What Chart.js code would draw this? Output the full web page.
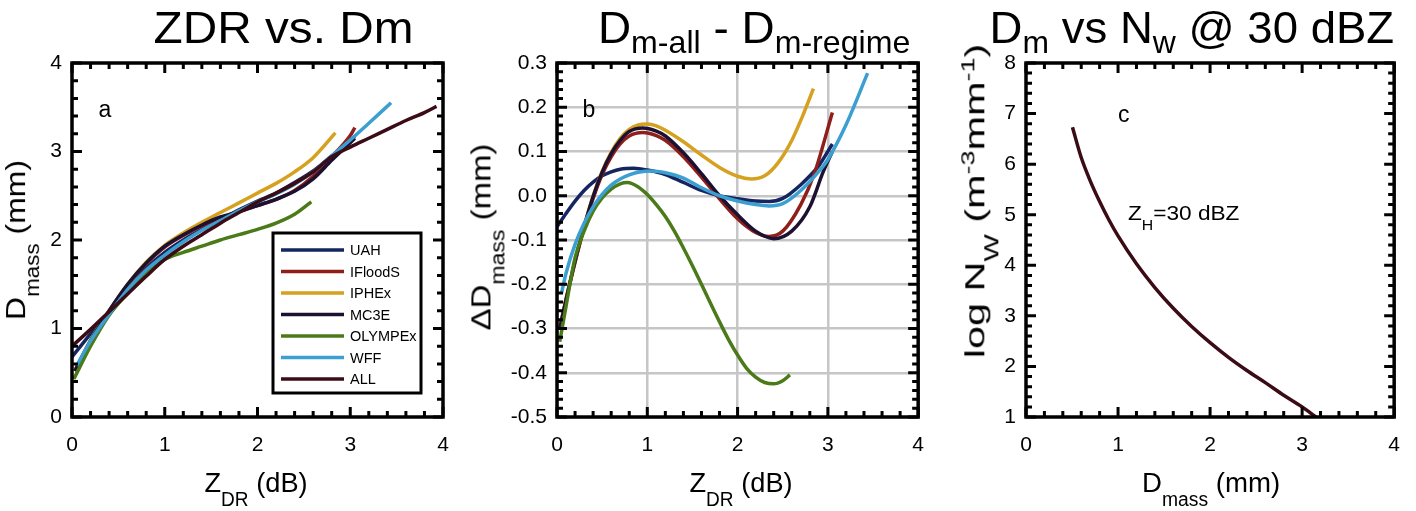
<!DOCTYPE html>
<html><head><meta charset="utf-8">
<script src="https://cdn.jsdelivr.net/npm/chart.js@4.4.1/dist/chart.umd.min.js"></script>
<style>
html,body{margin:0;padding:0;background:#fff;}
#wrap{position:relative;width:1416px;height:511px;overflow:hidden;font-family:"Liberation Sans",Arial,Helvetica,sans-serif;color:#000;}
canvas{position:absolute;top:0;}
.t{position:absolute;white-space:nowrap;line-height:1;transform-origin:50% 50%;}
.sb{font-size:0.7em;position:relative;top:0.32em;}
.sb2{font-size:0.7em;position:relative;top:0.72em;}
.sp{font-size:0.65em;position:relative;top:-0.55em;}
</style></head>
<body>
<div id="wrap">
  <canvas id="ca" width="470" height="511" style="left:0;width:470px;height:511px"></canvas>
  <canvas id="cb" width="470" height="511" style="left:470px;width:470px;height:511px"></canvas>
  <canvas id="cc" width="476" height="511" style="left:940px;width:476px;height:511px"></canvas>
</div>
<script>
// ---------------- DATA ----------------
const seriesNames = ['UAH','IFloodS','IPHEx','MC3E','OLYMPEx','WFF','ALL'];

// Panel a: ZDR (dB) vs Dmass (mm)
const zdrA_UAH = [0, 0.2, 0.4, 0.6, 0.8, 1.0, 1.2, 1.4, 1.6, 1.8, 2.0, 2.2, 2.4, 2.6, 2.8, 3.0, 3.05];
const dmA_UAH  = [0.68, 0.94, 1.19, 1.46, 1.68, 1.86, 2.00, 2.12, 2.23, 2.34, 2.44, 2.53, 2.65, 2.78, 2.95, 3.12, 3.17];
const zdrA_IFloodS = [0.03, 0.2, 0.4, 0.6, 0.8, 1.0, 1.2, 1.4, 1.6, 1.8, 2.0, 2.2, 2.4, 2.6, 2.8, 3.0, 3.05];
const dmA_IFloodS  = [0.52, 0.86, 1.19, 1.49, 1.73, 1.92, 2.05, 2.16, 2.24, 2.32, 2.39, 2.46, 2.56, 2.72, 2.94, 3.18, 3.27];
const zdrA_IPHEx = [0.03, 0.2, 0.4, 0.6, 0.8, 1.0, 1.2, 1.4, 1.6, 1.8, 2.0, 2.2, 2.4, 2.6, 2.84];
const dmA_IPHEx  = [0.52, 0.87, 1.20, 1.50, 1.75, 1.94, 2.08, 2.20, 2.31, 2.42, 2.53, 2.64, 2.77, 2.93, 3.21];
const zdrA_MC3E = [0.03, 0.2, 0.4, 0.6, 0.8, 1.0, 1.2, 1.4, 1.6, 1.8, 2.0, 2.2, 2.4, 2.6, 2.8, 3.0, 3.05];
const dmA_MC3E  = [0.52, 0.86, 1.20, 1.50, 1.74, 1.93, 2.06, 2.17, 2.26, 2.32, 2.39, 2.46, 2.55, 2.69, 2.90, 3.10, 3.15];
const zdrA_OLYMPEx = [0.02, 0.2, 0.4, 0.6, 0.8, 1.0, 1.2, 1.4, 1.6, 1.8, 2.0, 2.2, 2.4, 2.58];
const dmA_OLYMPEx  = [0.43, 0.80, 1.15, 1.40, 1.62, 1.78, 1.86, 1.93, 2.00, 2.06, 2.12, 2.19, 2.29, 2.43];
const zdrA_WFF = [0.05, 0.2, 0.4, 0.6, 0.8, 1.0, 1.2, 1.4, 1.6, 1.8, 2.0, 2.2, 2.4, 2.6, 2.8, 3.0, 3.2, 3.44];
const dmA_WFF  = [0.58, 0.86, 1.16, 1.44, 1.66, 1.83, 1.98, 2.11, 2.22, 2.33, 2.43, 2.52, 2.63, 2.77, 2.95, 3.13, 3.32, 3.55];
const zdrA_ALL = [0, 0.2, 0.4, 0.6, 0.8, 1.0, 1.2, 1.4, 1.6, 1.8, 2.0, 2.2, 2.4, 2.6, 2.8, 3.0, 3.2, 3.4, 3.6, 3.8, 3.93];
const dmA_ALL  = [0.80, 0.99, 1.19, 1.39, 1.59, 1.78, 1.93, 2.06, 2.19, 2.31, 2.43, 2.53, 2.64, 2.77, 2.94, 3.05, 3.15, 3.25, 3.35, 3.44, 3.51];

// Panel b: ZDR (dB) vs delta Dmass (mm)
const zdrB_UAH = [0, 0.1, 0.2, 0.3, 0.4, 0.5, 0.6, 0.7, 0.85, 1.0, 1.2, 1.4, 1.6, 1.8, 2.0, 2.2, 2.35, 2.5, 2.7, 2.9, 3.05];
const dDmB_UAH = [-0.07, -0.04, -0.012, 0.012, 0.031, 0.045, 0.054, 0.06, 0.062, 0.058, 0.048, 0.03, 0.012, 0.0, -0.007, -0.012, -0.013, -0.006, 0.025, 0.068, 0.117];
const zdrB_IFloodS = [0.03, 0.1, 0.2, 0.3, 0.4, 0.5, 0.6, 0.7, 0.8, 0.95, 1.1, 1.2, 1.4, 1.6, 1.8, 2.0, 2.2, 2.35, 2.5, 2.7, 2.85, 3.05];
const dDmB_IFloodS = [-0.30, -0.235, -0.15, -0.073, -0.006, 0.048, 0.088, 0.117, 0.135, 0.143, 0.136, 0.125, 0.088, 0.042, -0.007, -0.052, -0.083, -0.092, -0.08, -0.02, 0.05, 0.188];
const zdrB_IPHEx = [0.03, 0.1, 0.2, 0.3, 0.4, 0.5, 0.6, 0.7, 0.8, 0.9, 1.0, 1.1, 1.2, 1.4, 1.6, 1.8, 2.0, 2.15, 2.3, 2.45, 2.6, 2.72, 2.84];
const dDmB_IPHEx = [-0.30, -0.235, -0.148, -0.07, 0.0, 0.055, 0.098, 0.13, 0.15, 0.16, 0.162, 0.158, 0.148, 0.122, 0.092, 0.064, 0.044, 0.038, 0.045, 0.075, 0.125, 0.18, 0.242];
const zdrB_MC3E = [0.03, 0.1, 0.2, 0.3, 0.4, 0.5, 0.6, 0.7, 0.8, 0.95, 1.1, 1.2, 1.4, 1.6, 1.8, 2.0, 2.2, 2.4, 2.6, 2.8, 2.95, 3.05];
const dDmB_MC3E = [-0.30, -0.235, -0.148, -0.07, -0.002, 0.053, 0.095, 0.125, 0.145, 0.153, 0.146, 0.135, 0.097, 0.05, 0.0, -0.043, -0.08, -0.097, -0.08, -0.025, 0.055, 0.10];
const zdrB_OLYMPEx = [0.03, 0.1, 0.2, 0.3, 0.4, 0.5, 0.6, 0.7, 0.78, 0.9, 1.0, 1.1, 1.2, 1.3, 1.4, 1.5, 1.6, 1.7, 1.8, 1.9, 2.0, 2.1, 2.2, 2.3, 2.4, 2.5, 2.58];
const dDmB_OLYMPEx = [-0.33, -0.25, -0.14, -0.08, -0.035, -0.005, 0.015, 0.027, 0.03, 0.02, 0.003, -0.02, -0.047, -0.08, -0.118, -0.158, -0.2, -0.243, -0.285, -0.325, -0.36, -0.39, -0.41, -0.422, -0.425, -0.418, -0.405];
const zdrB_WFF = [0.05, 0.1, 0.2, 0.3, 0.4, 0.5, 0.6, 0.7, 0.8, 0.9, 1.05, 1.2, 1.4, 1.6, 1.8, 2.0, 2.2, 2.35, 2.5, 2.7, 2.9, 3.0, 3.2, 3.44];
const dDmB_WFF = [-0.22, -0.175, -0.11, -0.062, -0.025, 0.003, 0.024, 0.038, 0.047, 0.053, 0.056, 0.052, 0.04, 0.018, 0.0, -0.012, -0.02, -0.023, -0.018, 0.012, 0.055, 0.082, 0.16, 0.277];

// Panel c: Dmass (mm) vs log Nw at ZH = 30 dBZ
const dmC    = [0.505, 0.6, 0.7, 0.8, 0.9, 1.0, 1.2, 1.4, 1.6, 1.8, 2.0, 2.2, 2.4, 2.6, 2.8, 3.0, 3.15];
const logNwC = [6.73, 6.13, 5.66, 5.26, 4.90, 4.58, 4.03, 3.56, 3.15, 2.79, 2.47, 2.18, 1.92, 1.68, 1.43, 1.20, 1.00];

// Tick values and labels
const xTickVals = [0, 1, 2, 3, 4];
const xTickLabels = ['0', '1', '2', '3', '4'];
const aYTickVals = [0, 1, 2, 3, 4];
const aYTickLabels = ['0', '1', '2', '3', '4'];
const bYTickVals = [-0.5, -0.4, -0.3, -0.2, -0.1, 0, 0.1, 0.2, 0.3];
const bYTickLabels = ['-0.5', '-0.4', '-0.3', '-0.2', '-0.1', '0.0', '0.1', '0.2', '0.3'];
const cYTickVals = [1, 2, 3, 4, 5, 6, 7, 8];
const cYTickLabels = ['1', '2', '3', '4', '5', '6', '7', '8'];

// ---------------- STYLE ----------------
const seriesColors = {UAH:'#14255f', IFloodS:'#8f1f1b', IPHEx:'#d5a11e', MC3E:'#1d1131', OLYMPEx:'#4b7a19', WFF:'#3b9fd1', ALL:'#3c0c16'};
const drawOrder = {ALL:0, WFF:1, OLYMPEx:2, MC3E:3, IPHEx:4, IFloodS:5, UAH:6};
const FONT = '"Liberation Sans", Arial, Helvetica, sans-serif';

const pts = (xs, ys) => xs.map((x, i) => ({x: x, y: ys[i]}));
function ds(name, xs, ys) {
  return {label: name, data: pts(xs, ys), borderColor: seriesColors[name], backgroundColor: seriesColors[name],
    borderWidth: 3.5, pointRadius: 0, fill: false, cubicInterpolationMode: 'monotone', order: drawOrder[name]};
}

const frameTicks = {
  id: 'frameTicks',
  afterDatasetsDraw(chart, args, o) {
    const {ctx, chartArea: ca, scales} = chart;
    const xs = scales.x, ys = scales.y;
    ctx.save();
    ctx.strokeStyle = '#000';
    ctx.lineWidth = 3;
    const isMajor = (v, m) => Math.abs(v / m - Math.round(v / m)) < 1e-6;
    let n = Math.round((xs.max - xs.min) / o.xMinor);
    for (let i = 0; i <= n; i++) {
      const v = xs.min + i * o.xMinor;
      const len = isMajor(v, o.xMajor) ? 10 : 6;
      const p = xs.getPixelForValue(v);
      ctx.beginPath();
      ctx.moveTo(p, ca.bottom); ctx.lineTo(p, ca.bottom - len);
      ctx.moveTo(p, ca.top); ctx.lineTo(p, ca.top + len);
      ctx.stroke();
    }
    n = Math.round((ys.max - ys.min) / o.yMinor);
    for (let i = 0; i <= n; i++) {
      const v = ys.min + i * o.yMinor;
      const len = isMajor(v, o.yMajor) ? 10 : 6;
      const p = ys.getPixelForValue(v);
      ctx.beginPath();
      ctx.moveTo(ca.left, p); ctx.lineTo(ca.left + len, p);
      ctx.moveTo(ca.right, p); ctx.lineTo(ca.right - len, p);
      ctx.stroke();
    }
    ctx.lineWidth = 3.5;
    ctx.strokeRect(ca.left, ca.top, ca.width, ca.height);
    ctx.restore();
  }
};

const boxLegend = {
  id: 'boxLegend',
  afterDatasetsDraw(chart, args, o) {
    if (!o.show) return;
    const {ctx, chartArea: ca} = chart;
    const bx = ca.left + 201, by = ca.top + 170, bw = 148, bh = 160;
    ctx.save();
    ctx.fillStyle = '#fff'; ctx.fillRect(bx, by, bw, bh);
    ctx.lineWidth = 3; ctx.strokeStyle = '#000'; ctx.strokeRect(bx, by, bw, bh);
    ctx.font = '14.5px ' + FONT; ctx.textBaseline = 'middle'; ctx.textAlign = 'left';
    chart.data.datasets.forEach((d, i) => {
      const y = by + 17 + i * 21.5;
      ctx.strokeStyle = d.borderColor; ctx.lineWidth = 3.5;
      ctx.beginPath(); ctx.moveTo(bx + 8, y); ctx.lineTo(bx + 71, y); ctx.stroke();
      ctx.fillStyle = '#000';
      ctx.fillText(d.label, bx + 77, y + 1);
    });
    ctx.restore();
  }
};

function axis(min, max, vals, labels, grid, fitFn, pad) {
  return {
    type: 'linear', min: min, max: max,
    afterBuildTicks: s => { s.ticks = vals.map(v => ({value: v})); },
    afterFit: fitFn,
    ticks: {color: '#000', font: {family: FONT, size: 21}, padding: pad, autoSkip: false, maxRotation: 0,
      callback: (v, i) => labels[i]},
    grid: {display: grid, color: '#c6c6c6', lineWidth: 2.5, drawTicks: false},
    border: {display: false}
  };
}

function make(id, W, areaLeft, areaRight, datasets, yMin, yMax, yVals, yLabels, grid, minor, legend) {
  return new Chart(document.getElementById(id), {
    type: 'line',
    data: {datasets: datasets},
    options: {
      responsive: false, animation: false, events: [],
      layout: {padding: {top: 63, left: 0, right: W - areaRight, bottom: 0}},
      scales: {
        x: axis(0, 4, xTickVals, xTickLabels, grid, s => { s.height = 94; }, 16),
        y: axis(yMin, yMax, yVals, yLabels, grid, s => { s.width = areaLeft; }, 10)
      },
      plugins: {legend: {display: false}, tooltip: {enabled: false},
        frameTicks: minor, boxLegend: {show: legend}}
    },
    plugins: [frameTicks, boxLegend]
  });
}

make('ca', 470, 72, 443, [
  ds('UAH', zdrA_UAH, dmA_UAH), ds('IFloodS', zdrA_IFloodS, dmA_IFloodS), ds('IPHEx', zdrA_IPHEx, dmA_IPHEx),
  ds('MC3E', zdrA_MC3E, dmA_MC3E), ds('OLYMPEx', zdrA_OLYMPEx, dmA_OLYMPEx), ds('WFF', zdrA_WFF, dmA_WFF),
  ds('ALL', zdrA_ALL, dmA_ALL)
], 0, 4, aYTickVals, aYTickLabels, false, {xMinor: 0.2, xMajor: 1, yMinor: 0.2, yMajor: 1}, true);

make('cb', 470, 87, 457, [
  ds('UAH', zdrB_UAH, dDmB_UAH), ds('IFloodS', zdrB_IFloodS, dDmB_IFloodS), ds('IPHEx', zdrB_IPHEx, dDmB_IPHEx),
  ds('MC3E', zdrB_MC3E, dDmB_MC3E), ds('OLYMPEx', zdrB_OLYMPEx, dDmB_OLYMPEx), ds('WFF', zdrB_WFF, dDmB_WFF)
], -0.5, 0.3, bYTickVals, bYTickLabels, true, {xMinor: 0.2, xMajor: 1, yMinor: 0.02, yMajor: 0.1}, false);

make('cc', 476, 86, 456, [
  ds('ALL', dmC, logNwC)
], 1, 8, cYTickVals, cYTickLabels, false, {xMinor: 0.2, xMajor: 1, yMinor: 0.2, yMajor: 1}, false);

// ---------------- TEXT ----------------
const texts = [
  {h: 'ZDR vs. Dm', cx: 283, cy: 27, f: 45, len: 260, rot: 0},
  {h: 'D<span class="sb">m-all</span> - D<span class="sb">m-regime</span>', cx: 754, cy: 27, f: 45, len: 312, rot: 0},
  {h: 'D<span class="sb">m</span> vs N<span class="sb">w</span> @ 30 dBZ', cx: 1192, cy: 27, f: 45, len: 405, rot: 0},
  {h: 'Z<span class="sb2">DR</span> (dB)', cx: 256, cy: 483, f: 28, len: 103, rot: 0},
  {h: 'Z<span class="sb2">DR</span> (dB)', cx: 741, cy: 483, f: 28, len: 103, rot: 0},
  {h: 'D<span class="sb2">mass</span> (mm)', cx: 1211, cy: 483, f: 28, len: 138, rot: 0},
  {h: 'D<span class="sb2">mass</span> (mm)', cx: 16, cy: 240, f: 28, len: 160, rot: -90},
  {h: '\u0394D<span class="sb2">mass</span> (mm)', cx: 481, cy: 237, f: 28, len: 187, rot: -90},
  {h: 'log N<span class="sb2">W</span> (m<span class="sp">-3</span>mm<span class="sp">-1</span>)', cx: 975, cy: 201, f: 28, len: 315, rot: -90},
  {h: 'a', cx: 105, cy: 109, f: 23, len: 0, rot: 0},
  {h: 'b', cx: 589, cy: 109, f: 23, len: 0, rot: 0},
  {h: 'c', cx: 1124, cy: 114, f: 23, len: 0, rot: 0},
  {h: 'Z<span class="sb2">H</span>=30 dBZ', cx: 1183, cy: 212, f: 21, len: 111, rot: 0}
];
const wrap = document.getElementById('wrap');
texts.forEach(t => {
  const d = document.createElement('div');
  d.className = 't';
  d.style.fontSize = t.f + 'px';
  d.innerHTML = t.h;
  wrap.appendChild(d);
  const w = d.offsetWidth, h = d.offsetHeight;
  d.style.left = (t.cx - w / 2) + 'px';
  d.style.top = (t.cy - h / 2) + 'px';
  const s = t.len ? t.len / w : 1;
  d.style.transform = 'rotate(' + t.rot + 'deg) scaleX(' + s.toFixed(3) + ')';
});
</script>
</body></html>
